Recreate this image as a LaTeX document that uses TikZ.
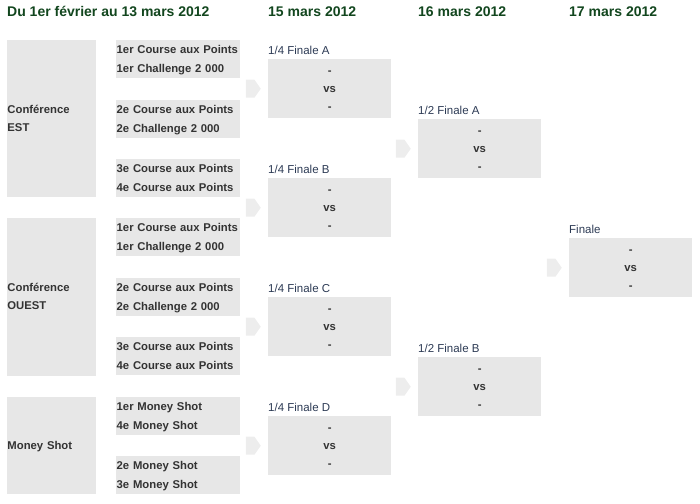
\documentclass[tikz,border=0pt]{standalone}
\usepackage{fontspec}
\setmainfont{Liberation Sans}
\usetikzlibrary{positioning,shapes.symbols}
\definecolor{headgreen}{RGB}{18,70,30}
\definecolor{cellgray}{RGB}{231,231,231}
\definecolor{pointgray}{RGB}{237,237,237}
\definecolor{inkgray}{RGB}{51,51,51}
\definecolor{stageblue}{RGB}{44,58,84}

\begin{document}
\begin{tikzpicture}[x=1pt,y=-1pt,
	day/.style={anchor=base west,inner sep=0pt,text=headgreen,font=\fontsize{14}{16}\selectfont\bfseries},
	boxed/.style={anchor=north west,fill=cellgray,inner ysep=0pt,text=inkgray,
		execute at begin node=\strut,execute at end node=\strut},
	group/.style={boxed,minimum width=89pt,text width=88.5pt,inner xsep=0.25pt,align=left,font=\fontsize{11.3}{18}\selectfont\bfseries},
	seed/.style={boxed,minimum width=124pt,minimum height=38pt,text width=123pt,inner xsep=0.5pt,align=left,font=\fontsize{11.3}{19}\selectfont\bfseries},
	match/.style={boxed,minimum width=123pt,minimum height=59pt,text width=123pt,inner xsep=0pt,align=center,font=\fontsize{11.3}{18}\selectfont\bfseries},
	stage/.style={anchor=base west,inner sep=0pt,text=stageblue,font=\fontsize{11.5}{14}\selectfont},
	pointer/.style={shape=signal,signal to=east,signal pointer angle=110,fill=pointgray,minimum width=15pt,minimum height=18pt,inner sep=0pt}]
		\useasboundingbox (0,0) rectangle (700,503);
		% dates
		\node[day] (d0) at (7,17) {Du 1er février au 13 mars 2012};
		\node[day] (d1) at (268,17) {15 mars 2012};
		\node[day] (d2) at (418,17) {16 mars 2012};
		\node[day] (d3) at (569,17) {17 mars 2012};
		% groups
		\node[group,minimum height=157pt] (est) at (7,40) {Conférence\\EST};
		\node[group,minimum height=158pt] (ouest) at (7,218) {Conférence\\OUEST};
		\node[group,minimum height=97pt] (money) at (7,397) {Money Shot};
		% seeds
		\foreach \n/\y/\a/\b in {1/40/1er Course aux Points/1er Challenge 2 000,
			2/100/2e Course aux Points/2e Challenge 2 000,
			3/159/3e Course aux Points/4e Course aux Points,
			4/218/1er Course aux Points/1er Challenge 2 000,
			5/278/2e Course aux Points/2e Challenge 2 000,
			6/337/3e Course aux Points/4e Course aux Points,
			7/397/1er Money Shot/4e Money Shot,
			8/456/2e Money Shot/3e Money Shot}
		\node[seed] (s\n) at (116,\y) {\a\\\b};
		% matches
		\foreach \n/\x/\y/\t in {qa/268/59/{1/4 Finale A},qb/268/178/{1/4 Finale B},
			qc/268/297/{1/4 Finale C},qd/268/416/{1/4 Finale D},
			ha/418/119/{1/2 Finale A},hb/418/357/{1/2 Finale B},fin/569/238/Finale}{
			\node[match] (\n) at (\x,\y) {-\\vs\\-};
			\node[stage] (\n-lbl) at ([yshift=5pt]\n.north west) {\t};
			\node[pointer,left=7pt of \n] (\n-arr) {};
		}
	\end{tikzpicture}
\end{document}
